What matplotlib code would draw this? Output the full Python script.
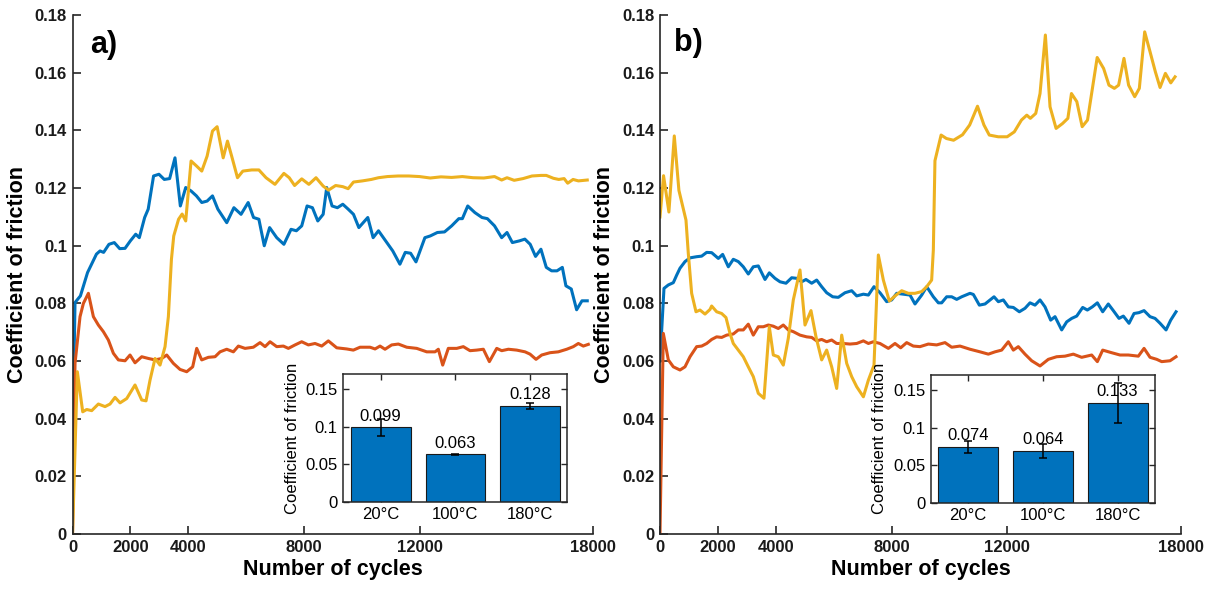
import matplotlib
matplotlib.use("Agg")
import matplotlib.pyplot as plt
import numpy as np

plt.rcParams['font.family'] = ['Liberation Sans', 'DejaVu Sans']

# ---------------- data: panel a ----------------
a_blue_x = [0, 86, 272, 519, 827, 951, 1074, 1259, 1444, 1630, 1815, 2000, 2185, 2309, 2494, 2617, 2802, 2988,
            3173, 3358, 3543, 3728, 3914, 4099, 4284, 4469, 4654, 4840, 5025, 5333, 5580, 5827, 6074, 6259, 6444,
            6630, 6815, 7062, 7309, 7556, 7741, 7926, 8111, 8296, 8481, 8667, 8790, 8975, 9160, 9346, 9531, 9716,
            9901, 10210, 10395, 10580, 10827, 11074, 11321, 11506, 11691, 11877, 12185, 12370, 12617, 12864, 13111,
            13358, 13481, 13667, 13914, 14160, 14346, 14593, 14840, 15025, 15210, 15457, 15642, 15827, 16012, 16198,
            16383, 16568, 16753, 16938, 17062, 17247, 17432, 17617, 17800]
a_blue_y = [0.030, 0.0803, 0.0826, 0.0907, 0.0971, 0.0982, 0.0977, 0.1005, 0.1011, 0.0990, 0.0991, 0.1017, 0.1040,
            0.1028, 0.1098, 0.1127, 0.1242, 0.1248, 0.1230, 0.1233, 0.1305, 0.1138, 0.1202, 0.1190, 0.1173, 0.1150,
            0.1155, 0.1173, 0.1127, 0.1080, 0.1132, 0.1109, 0.1150, 0.1098, 0.1092, 0.1000, 0.1063, 0.1028, 0.1005,
            0.1057, 0.1052, 0.1069, 0.1138, 0.1132, 0.1086, 0.1109, 0.1202, 0.1138, 0.1132, 0.1144, 0.1127, 0.1109,
            0.1063, 0.1098, 0.1028, 0.1052, 0.1017, 0.0982, 0.0936, 0.0977, 0.0974, 0.0944, 0.1028, 0.1034, 0.1046,
            0.1048, 0.1069, 0.1094, 0.1094, 0.1138, 0.1115, 0.1098, 0.1094, 0.1069, 0.1028, 0.1046, 0.1011, 0.1017,
            0.1023, 0.1005, 0.0963, 0.0988, 0.0925, 0.0913, 0.0913, 0.0925, 0.0861, 0.0850, 0.0778, 0.0809, 0.0809]

a_orange_x = [0, 86, 259, 375, 548, 721, 893, 1066, 1239, 1412, 1585, 1816, 1988, 2161, 2392, 2623, 2853, 3084,
              3257, 3487, 3717, 3948, 4155, 4294, 4467, 4697, 4928, 5101, 5332, 5562, 5735, 5965, 6253, 6484, 6657,
              6830, 7061, 7291, 7464, 7695, 7925, 8156, 8386, 8617, 8847, 9136, 9482, 9711, 9942, 10288, 10461,
              10634, 10806, 11037, 11267, 11557, 11903, 12249, 12536, 12650, 12801, 12995, 13286, 13514, 13746,
              13977, 14207, 14415, 14669, 14842, 15072, 15361, 15648, 15821, 16028, 16225, 16512, 16799, 17090,
              17318, 17491, 17664, 17837]
a_orange_y = [0.0, 0.0592, 0.0754, 0.0800, 0.0835, 0.0754, 0.0725, 0.0702, 0.0673, 0.0627, 0.0604, 0.0601, 0.0621,
              0.0594, 0.0615, 0.0609, 0.0604, 0.0609, 0.0621, 0.0592, 0.0571, 0.0563, 0.0580, 0.0644, 0.0604,
              0.0613, 0.0615, 0.0632, 0.0641, 0.0632, 0.0652, 0.0644, 0.0648, 0.0664, 0.0650, 0.0667, 0.0650,
              0.0652, 0.0644, 0.0656, 0.0667, 0.0656, 0.0661, 0.0652, 0.0670, 0.0646, 0.0642, 0.0638, 0.0648,
              0.0648, 0.0642, 0.0652, 0.0641, 0.0656, 0.0659, 0.0648, 0.0644, 0.0632, 0.0632, 0.0641, 0.0586,
              0.0644, 0.0644, 0.0650, 0.0636, 0.0638, 0.0641, 0.0598, 0.0644, 0.0636, 0.0641, 0.0638, 0.0632,
              0.0624, 0.0606, 0.0621, 0.0629, 0.0632, 0.0641, 0.0650, 0.0661, 0.0652, 0.0658]

a_yellow_x = [0, 166, 352, 490, 663, 893, 1124, 1297, 1470, 1643, 1874, 2161, 2392, 2542, 2680, 2853, 3026, 3199,
              3314, 3420, 3500, 3667, 3790, 3914, 4099, 4284, 4469, 4654, 4840, 5000, 5210, 5358, 5519, 5704, 5889,
              6198, 6444, 6691, 7000, 7309, 7494, 7679, 7926, 8173, 8420, 8667, 8852, 9099, 9346, 9531, 9716, 10025,
              10333, 10580, 10889, 11259, 11630, 12000, 12370, 12741, 13111, 13481, 13852, 14222, 14593, 14840,
              15025, 15272, 15580, 15889, 16198, 16383, 16630, 16815, 17000, 17123, 17309, 17494, 17800]
a_yellow_y = [0.0, 0.0563, 0.0424, 0.0432, 0.0428, 0.0451, 0.0442, 0.0451, 0.0474, 0.0455, 0.0470, 0.0517, 0.0465,
              0.0462, 0.0534, 0.0609, 0.0586, 0.0650, 0.0754, 0.0953, 0.1034, 0.1092, 0.1110, 0.1086, 0.1294,
              0.1277, 0.1259, 0.1311, 0.1398, 0.1413, 0.1305, 0.1363, 0.1305, 0.1236, 0.1259, 0.1263, 0.1263,
              0.1236, 0.1213, 0.1251, 0.1236, 0.1209, 0.1232, 0.1213, 0.1236, 0.1207, 0.1193, 0.1209, 0.1205,
              0.1198, 0.1221, 0.1225, 0.1230, 0.1236, 0.1240, 0.1242, 0.1242, 0.1240, 0.1235, 0.1239, 0.1237,
              0.1240, 0.1236, 0.1235, 0.1240, 0.1228, 0.1236, 0.1227, 0.1233, 0.1242, 0.1244, 0.1244, 0.1234,
              0.1230, 0.1233, 0.1217, 0.1230, 0.1225, 0.1228]

# ---------------- data: panel b ----------------
b_blue_x = [0, 138, 288, 461, 576, 691, 864, 1037, 1267, 1440, 1613, 1786, 2016, 2165, 2361, 2533, 2706, 2879, 3051,
            3224, 3397, 3628, 3777, 3973, 4146, 4353, 4550, 4723, 4896, 5044, 5241, 5414, 5586, 5759, 5967, 6160,
            6392, 6623, 6796, 7027, 7200, 7394, 7601, 7832, 8005, 8178, 8409, 8638, 8810, 9042, 9215, 9444, 9617,
            9732, 9905, 10078, 10251, 10424, 10711, 10827, 11034, 11230, 11541, 11690, 11862, 12035, 12208, 12415,
            12611, 12784, 12957, 13130, 13302, 13498, 13648, 13878, 14051, 14224, 14397, 14604, 14765, 14938,
            15111, 15295, 15489, 15662, 15859, 16009, 16205, 16378, 16551, 16724, 16931, 17104, 17277, 17484,
            17645, 17829]
b_blue_y = [0.060, 0.0852, 0.0864, 0.0872, 0.0898, 0.0922, 0.0945, 0.0958, 0.0962, 0.0964, 0.0977, 0.0976, 0.0956,
            0.0970, 0.0927, 0.0953, 0.0945, 0.0927, 0.0902, 0.0927, 0.0930, 0.0883, 0.0906, 0.0887, 0.0875, 0.0870,
            0.0889, 0.0887, 0.0875, 0.0883, 0.0870, 0.0881, 0.0858, 0.0837, 0.0823, 0.0821, 0.0837, 0.0844, 0.0826,
            0.0832, 0.0829, 0.0858, 0.0837, 0.0806, 0.0812, 0.0835, 0.0832, 0.0829, 0.0798, 0.0829, 0.0858, 0.0823,
            0.0802, 0.0802, 0.0823, 0.0823, 0.0814, 0.0823, 0.0835, 0.0831, 0.0794, 0.0798, 0.0823, 0.0806, 0.0812,
            0.0788, 0.0786, 0.0771, 0.0783, 0.0802, 0.0794, 0.0812, 0.0788, 0.0742, 0.0754, 0.0708, 0.0736, 0.0748,
            0.0756, 0.0786, 0.0777, 0.0788, 0.0802, 0.0771, 0.0798, 0.0775, 0.0748, 0.0756, 0.0731, 0.0765, 0.0768,
            0.0775, 0.0754, 0.0748, 0.0731, 0.0708, 0.0742, 0.0771]

b_orange_x = [0, 115, 288, 461, 691, 864, 1037, 1267, 1440, 1613, 1786, 1958, 2131, 2304, 2533, 2706, 2879, 3051,
              3224, 3397, 3570, 3743, 3915, 4087, 4260, 4433, 4606, 4837, 5068, 5241, 5414, 5586, 5759, 5932, 6105,
              6335, 6565, 6796, 7027, 7200, 7373, 7601, 7890, 8120, 8316, 8523, 8752, 8983, 9271, 9559, 9847, 10078,
              10366, 10711, 11057, 11345, 11575, 11805, 12035, 12208, 12380, 12611, 12842, 13130, 13417, 13705,
              13993, 14281, 14569, 14915, 15111, 15295, 15604, 15893, 16181, 16527, 16724, 16931, 17162, 17334,
              17622, 17829]
b_orange_y = [0.0, 0.0696, 0.0604, 0.0580, 0.0569, 0.0580, 0.0615, 0.0650, 0.0652, 0.0661, 0.0675, 0.0684, 0.0682,
              0.0690, 0.0694, 0.0708, 0.0708, 0.0728, 0.0690, 0.0719, 0.0719, 0.0725, 0.0721, 0.0713, 0.0725,
              0.0708, 0.0702, 0.0690, 0.0684, 0.0682, 0.0670, 0.0675, 0.0667, 0.0673, 0.0661, 0.0661, 0.0659,
              0.0661, 0.0670, 0.0661, 0.0667, 0.0661, 0.0644, 0.0661, 0.0646, 0.0664, 0.0652, 0.0650, 0.0659,
              0.0656, 0.0664, 0.0648, 0.0652, 0.0641, 0.0632, 0.0624, 0.0632, 0.0638, 0.0667, 0.0638, 0.0650,
              0.0624, 0.0601, 0.0583, 0.0606, 0.0615, 0.0617, 0.0624, 0.0613, 0.0621, 0.0598, 0.0638, 0.0629,
              0.0621, 0.0621, 0.0617, 0.0644, 0.0613, 0.0606, 0.0598, 0.0601, 0.0615]

b_yellow_x = [0, 123, 308, 494, 654, 898, 978, 1094, 1244, 1382, 1555, 1728, 1785, 1958, 2131, 2280, 2418, 2533,
              2706, 2879, 3051, 3224, 3397, 3593, 3777, 3915, 4087, 4260, 4433, 4606, 4837, 5010, 5217, 5390, 5586,
              5759, 5932, 6105, 6278, 6451, 6623, 6796, 7027, 7200, 7394, 7544, 7717, 7924, 8120, 8351, 8581, 8810,
              9042, 9215, 9386, 9444, 9500, 9712, 9897, 10143, 10452, 10700, 10970, 11192, 11377, 11686, 11994,
              12241, 12488, 12673, 12796, 12982, 13130, 13315, 13476, 13685, 13907, 14092, 14216, 14401, 14586,
              14771, 15105, 15327, 15512, 15697, 15845, 16030, 16191, 16401, 16561, 16746, 16931, 17116, 17277,
              17462, 17647, 17795]
b_yellow_y = [0.1100, 0.1243, 0.1117, 0.1381, 0.1192, 0.1089, 0.0974, 0.0835, 0.0771, 0.0777, 0.0763, 0.0779,
              0.0791, 0.0771, 0.0765, 0.0751, 0.0696, 0.0661, 0.0638, 0.0615, 0.0580, 0.0546, 0.0488, 0.0471,
              0.0719, 0.0621, 0.0615, 0.0586, 0.0679, 0.0812, 0.0916, 0.0725, 0.0775, 0.0684, 0.0604, 0.0638,
              0.0580, 0.0505, 0.0690, 0.0592, 0.0546, 0.0511, 0.0476, 0.0534, 0.0586, 0.0968, 0.0881, 0.0808,
              0.0826, 0.0844, 0.0835, 0.0835, 0.0841, 0.0858, 0.0881, 0.0985, 0.1295, 0.1384, 0.1372, 0.1366,
              0.1385, 0.1419, 0.1484, 0.1419, 0.1384, 0.1378, 0.1378, 0.1395, 0.1436, 0.1453, 0.1442, 0.1459,
              0.1528, 0.1731, 0.1482, 0.1407, 0.1424, 0.1442, 0.1528, 0.1500, 0.1413, 0.1436, 0.1653, 0.1615,
              0.1557, 0.1546, 0.1557, 0.1650, 0.1557, 0.1517, 0.1546, 0.1742, 0.1673, 0.1603, 0.1549, 0.1598,
              0.1565, 0.1586]

# ---------------- inset bar data ----------------
temps = ['20°C', '100°C', '180°C']
a_bar_vals = [0.099, 0.063, 0.128]
a_bar_err = [0.012, 0.001, 0.004]
a_bar_labels = ['0.099', '0.063', '0.128']
b_bar_vals = [0.074, 0.069, 0.133]
b_bar_err = [0.008, 0.0095, 0.027]
b_bar_labels = ['0.074', '0.064', '0.133']

x_ticks = [0, 2000, 4000, 8000, 12000, 18000]
y_ticks = [0, 0.02, 0.04, 0.06, 0.08, 0.1, 0.12, 0.14, 0.16, 0.18]
inset_yticks = [0, 0.05, 0.1, 0.15]

C_BLUE = '#0072BD'
C_ORANGE = '#D95319'
C_YELLOW = '#EDB120'
AX_COL = '#262626'

fig = plt.figure(figsize=(12.15, 5.91), dpi=100)


def style_main(ax):
    for s in ['top', 'right']:
        ax.spines[s].set_visible(False)
    for s in ['left', 'bottom']:
        ax.spines[s].set_color(AX_COL)
        ax.spines[s].set_linewidth(1.2)
    ax.set_xlim(0, 18000)
    ax.set_ylim(0, 0.18)
    ax.set_xticks(x_ticks)
    ax.set_xticklabels([str(t) for t in x_ticks])
    ax.set_yticks(y_ticks)
    ax.set_yticklabels(['%g' % t for t in y_ticks])
    ax.tick_params(direction='in', length=6, width=1.2, color=AX_COL, labelsize=12, pad=4)
    for lab in ax.get_xticklabels() + ax.get_yticklabels():
        lab.set_fontweight('bold')
        lab.set_color('#1a1a1a')
    ax.set_xlabel('Number of cycles', fontsize=15.5, fontweight='bold', labelpad=3)
    ax.set_ylabel('Coefficient of friction', fontsize=15.5, fontweight='bold', labelpad=5)


def draw_inset(rect, vals, errs, labels):
    ax = fig.add_axes(rect)
    pos = np.arange(1, len(vals) + 1)
    ax.bar(pos, vals, width=0.8, color=C_BLUE, edgecolor='#1a1a1a', linewidth=0.8, zorder=2)
    ax.errorbar(pos, vals, yerr=errs, fmt='none', ecolor='black', elinewidth=1.1, capsize=3, capthick=1.1, zorder=3)
    for p, v, lab in zip(pos, vals, labels):
        ax.text(p, v + 0.005, lab, ha='center', va='bottom', fontsize=12, color='black', zorder=4)
    ax.set_xlim(0.5, 3.5)
    ax.set_ylim(0, 0.17)
    ax.set_xticks(pos)
    ax.set_xticklabels(temps)
    ax.set_yticks(inset_yticks)
    ax.set_yticklabels(['%g' % t for t in inset_yticks])
    ax.tick_params(direction='in', length=4, width=1, color=AX_COL, labelsize=12, top=True, right=True, pad=4)
    for s in ax.spines.values():
        s.set_color(AX_COL)
        s.set_linewidth(1.1)
    ax.set_ylabel('Coefficient of friction', fontsize=12, labelpad=4)
    return ax


# panel a
ax1 = fig.add_axes([0.0597, 0.0964, 0.4284, 0.878])
ax1.plot(a_blue_x, a_blue_y, color=C_BLUE, lw=2.2)
ax1.plot(a_orange_x, a_orange_y, color=C_ORANGE, lw=2.2)
ax1.plot(a_yellow_x, a_yellow_y, color=C_YELLOW, lw=2.2)
style_main(ax1)
ax1.text(0.034, 0.942, 'a)', transform=ax1.transAxes, fontsize=22, fontweight='bold', ha='left', va='center')

# panel b
ax2 = fig.add_axes([0.5432, 0.0964, 0.4288, 0.878])
ax2.plot(b_blue_x, b_blue_y, color=C_BLUE, lw=2.2)
ax2.plot(b_orange_x, b_orange_y, color=C_ORANGE, lw=2.2)
ax2.plot(b_yellow_x, b_yellow_y, color=C_YELLOW, lw=2.2)
style_main(ax2)
ax2.text(0.027, 0.946, 'b)', transform=ax2.transAxes, fontsize=22, fontweight='bold', ha='left', va='center')

# insets
draw_inset([0.2826, 0.1511, 0.1844, 0.2156], a_bar_vals, a_bar_err, a_bar_labels)
draw_inset([0.7660, 0.1494, 0.1846, 0.2161], b_bar_vals, b_bar_err, b_bar_labels)

fig.savefig('out.png', dpi=100, facecolor='white')
